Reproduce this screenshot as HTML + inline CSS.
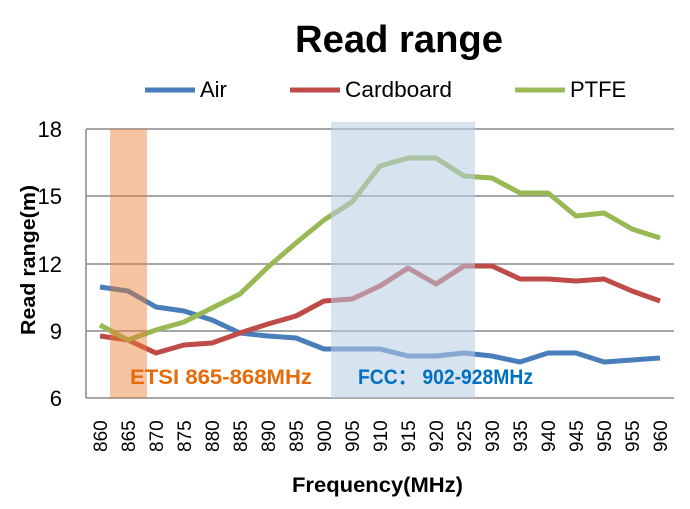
<!DOCTYPE html>
<html><head><style>body{margin:0;background:#fff}svg{display:block}</style></head><body>
<svg width="690" height="509" xmlns="http://www.w3.org/2000/svg" font-family="Liberation Sans, sans-serif">
<text x="295" y="52" font-size="38" font-weight="bold" textLength="208" lengthAdjust="spacingAndGlyphs">Read range</text>
<g font-size="22">
<line x1="145" y1="90" x2="195" y2="90" stroke="#4A7EBB" stroke-width="5"/><text x="200" y="97">Air</text>
<line x1="290" y1="90" x2="340" y2="90" stroke="#BE4B48" stroke-width="5"/><text x="345" y="97" textLength="107" lengthAdjust="spacingAndGlyphs">Cardboard</text>
<line x1="515" y1="90" x2="565" y2="90" stroke="#98B954" stroke-width="5"/><text x="570" y="97">PTFE</text>
</g>
<g stroke="#888" stroke-width="1.5">
<line x1="86" y1="129" x2="674" y2="129"/><line x1="86" y1="196" x2="674" y2="196"/>
<line x1="86" y1="264" x2="674" y2="264"/><line x1="86" y1="331" x2="674" y2="331"/>
<line x1="86" y1="398" x2="674" y2="398"/><line x1="86" y1="129" x2="86" y2="398"/>
</g>
<g font-size="22" text-anchor="end">
<text x="62" y="137">18</text><text x="62" y="204">15</text><text x="62" y="272">12</text><text x="62" y="339">9</text><text x="62" y="406">6</text>
</g>
<text transform="translate(35,335) rotate(-90)" font-size="20" font-weight="bold" textLength="150" lengthAdjust="spacingAndGlyphs">Read range(m)</text>
<g fill="none" stroke-width="5" stroke-linejoin="round">
<polyline stroke="#4A7EBB" points="100,287 128,291 156,307 184,311 212,320 240,333 268,336 296,338 324,349 352,349 380,349 408,356 436,356 464,353 492,356 520,362 548,353 576,353 604,362 632,360 660,358"/>
<polyline stroke="#BE4B48" points="100,336 128,340 156,353 184,345 212,343 240,333 268,324 296,316 324,301 352,299 380,286 408,268 436,284 464,266 492,266 520,279 548,279 576,281 604,279 632,291 660,301"/>
<polyline stroke="#98B954" points="100,325 128,340 156,330 184,322 212,308 240,294 268,267 296,243 324,220 352,202 380,166 408,158 436,158 464,176 492,178 520,193 548,193 576,216 604,213 632,229 660,238"/>
</g>
<rect x="110" y="129" width="37" height="269" fill="#ED7D31" opacity="0.45"/>
<rect x="331" y="122" width="144" height="276" fill="#B8CCE4" opacity="0.55"/>
<text x="130" y="384" font-size="21" font-weight="bold" fill="#E46C0A" textLength="182" lengthAdjust="spacingAndGlyphs">ETSI 865-868MHz</text>
<text x="358" y="384" font-size="21" font-weight="bold" fill="#0070C0" textLength="175" lengthAdjust="spacingAndGlyphs">FCC： 902-928MHz</text>
<g font-size="19">
<text transform="translate(107,452) rotate(-90)">860</text><text transform="translate(135,452) rotate(-90)">865</text>
<text transform="translate(163,452) rotate(-90)">870</text><text transform="translate(191,452) rotate(-90)">875</text>
<text transform="translate(219,452) rotate(-90)">880</text><text transform="translate(247,452) rotate(-90)">885</text>
<text transform="translate(275,452) rotate(-90)">890</text><text transform="translate(303,452) rotate(-90)">895</text>
<text transform="translate(331,452) rotate(-90)">900</text><text transform="translate(359,452) rotate(-90)">905</text>
<text transform="translate(387,452) rotate(-90)">910</text><text transform="translate(415,452) rotate(-90)">915</text>
<text transform="translate(443,452) rotate(-90)">920</text><text transform="translate(471,452) rotate(-90)">925</text>
<text transform="translate(499,452) rotate(-90)">930</text><text transform="translate(527,452) rotate(-90)">935</text>
<text transform="translate(555,452) rotate(-90)">940</text><text transform="translate(583,452) rotate(-90)">945</text>
<text transform="translate(611,452) rotate(-90)">950</text><text transform="translate(639,452) rotate(-90)">955</text>
<text transform="translate(667,452) rotate(-90)">960</text>
</g>
<text x="292" y="492" font-size="21" font-weight="bold" textLength="171" lengthAdjust="spacingAndGlyphs">Frequency(MHz)</text>
</svg>
</body></html>
